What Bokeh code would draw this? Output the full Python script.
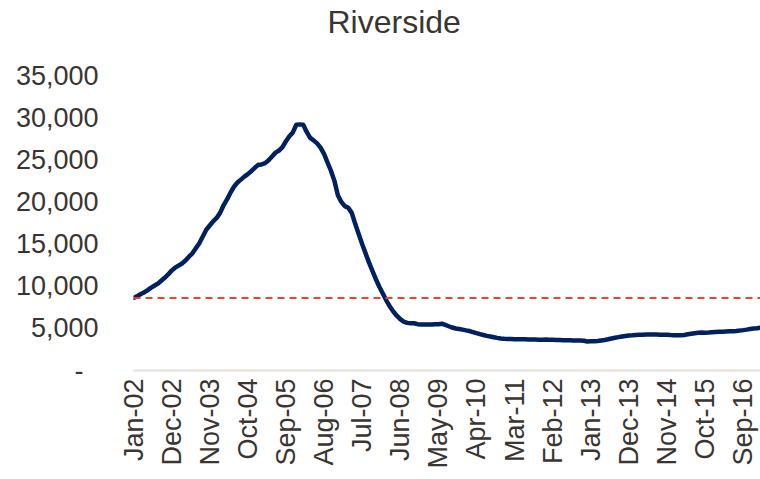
import math
import pandas as pd
from bokeh.plotting import figure
from bokeh.models import FixedTicker, Span, Range1d
from bokeh.embed import file_html
from bokeh.resources import INLINE

title_text = "Riverside"
start_month = "2002-01"

values = [
    8600, 8800, 9050, 9250, 9500, 9800, 10050, 10300, 10650, 11000, 11400, 11850,
    12200, 12450, 12700, 13050, 13500, 13900, 14500, 15100, 15900, 16700, 17200, 17700,
    18100, 18700, 19600, 20300, 21100, 21800, 22300, 22650, 23000, 23300, 23650, 24050,
    24400, 24450, 24600, 24950, 25400, 25850, 26100, 26500, 27200, 27800, 28250, 29150,
    29200, 29150, 28300, 27600, 27300, 26950, 26450, 25700, 24700, 23700, 22500, 20800,
    20000, 19500, 19300, 18700, 17400, 16200, 15000, 13900, 12800, 11800, 10800, 9900,
    9100, 8300, 7600, 7000, 6500, 6100, 5800, 5650, 5600, 5600, 5500, 5450,
    5450, 5450, 5450, 5480, 5500, 5550, 5400, 5250, 5100, 4980, 4920, 4850,
    4760, 4680, 4560, 4440, 4320, 4210, 4110, 4030, 3950, 3870, 3800, 3760,
    3740, 3730, 3720, 3710, 3700, 3700, 3680, 3690, 3680, 3660, 3660, 3670,
    3650, 3640, 3620, 3610, 3600, 3590, 3580, 3570, 3560, 3560, 3520, 3440,
    3460, 3480, 3500, 3560, 3620, 3700, 3790, 3880, 3960, 4040, 4100, 4160,
    4170, 4200, 4230, 4240, 4260, 4270, 4280, 4270, 4250, 4240, 4230, 4200,
    4180, 4170, 4180, 4220, 4290, 4360, 4430, 4480, 4500, 4490, 4500, 4530,
    4560, 4590, 4610, 4630, 4650, 4670, 4700, 4740, 4790, 4850, 4920, 4980,
    5020, 5070,
]

reference_level = 8600

y_ticks = [0, 5000, 10000, 15000, 20000, 25000, 30000, 35000]
y_tick_labels = ["-\u00a0\u00a0", "5,000", "10,000", "15,000", "20,000",
                 "25,000", "30,000", "35,000"]

tick_labels = ["Jan-02", "Dec-02", "Nov-03", "Oct-04", "Sep-05", "Aug-06",
               "Jul-07", "Jun-08", "May-09", "Apr-10", "Mar-11", "Feb-12",
               "Jan-13", "Dec-13", "Nov-14", "Oct-15", "Sep-16"]

months = list(pd.period_range(start_month, periods=len(values), freq="M").strftime("%b-%y"))
xs = list(range(len(values)))
tick_pos = [months.index(t) for t in tick_labels]

TEXT = "#3a3530"
FONT = "Liberation Sans"

# layout: frame spans from y=FRAME_TOP to y=370 px; 35,000 sits at y=75 px
FRAME_TOP = 44
FRAME_BOTTOM_BORDER = 109
HEIGHT = 479
frame_h = HEIGHT - FRAME_TOP - FRAME_BOTTOM_BORDER
y_top = 35000 * frame_h / (frame_h - (75 - FRAME_TOP))

p = figure(width=760, height=HEIGHT, output_backend="svg", toolbar_location=None,
           x_range=Range1d(0, len(values) - 1), y_range=Range1d(0, y_top),
           title=title_text)
p.min_border_left = 133
p.min_border_right = 0
p.min_border_top = FRAME_TOP
p.min_border_bottom = FRAME_BOTTOM_BORDER
p.outline_line_color = None
p.xgrid.grid_line_color = None
p.ygrid.grid_line_color = None

p.title.text_font = FONT
p.title.text_font_size = "32px"
p.title.text_font_style = "normal"
p.title.text_color = TEXT
p.title.align = "left"
p.title.offset = 194
p.title.vertical_align = "top"
p.title.standoff = 6

p.line(xs, values, line_color="#002060", line_width=4.5, line_join="round", line_cap="round")
p.add_layout(Span(location=reference_level, dimension="width", line_color="#E8452C",
                  line_width=2.2, line_dash="7 5"))

xa = p.xaxis[0]
xa.ticker = FixedTicker(ticks=tick_pos)
xa.major_label_overrides = {pos: lab for pos, lab in zip(tick_pos, tick_labels)}
xa.major_label_orientation = math.pi / 2
xa.major_label_text_font = FONT
xa.major_label_text_font_size = "27px"
xa.major_label_text_color = TEXT
xa.major_label_standoff = 8
xa.major_tick_in = 0
xa.major_tick_out = 0
xa.minor_tick_line_color = None
xa.axis_line_color = "#e3dfda"
xa.axis_line_width = 2

ya = p.yaxis[0]
ya.ticker = FixedTicker(ticks=y_ticks)
ya.major_label_overrides = {t: lab for t, lab in zip(y_ticks, y_tick_labels)}
ya.major_label_text_font = FONT
ya.major_label_text_font_size = "27px"
ya.major_label_text_color = TEXT
ya.major_label_standoff = 35
ya.major_tick_in = 0
ya.major_tick_out = 0
ya.minor_tick_line_color = None
ya.axis_line_color = None

open("out.html", "w").write(file_html(p, INLINE))
